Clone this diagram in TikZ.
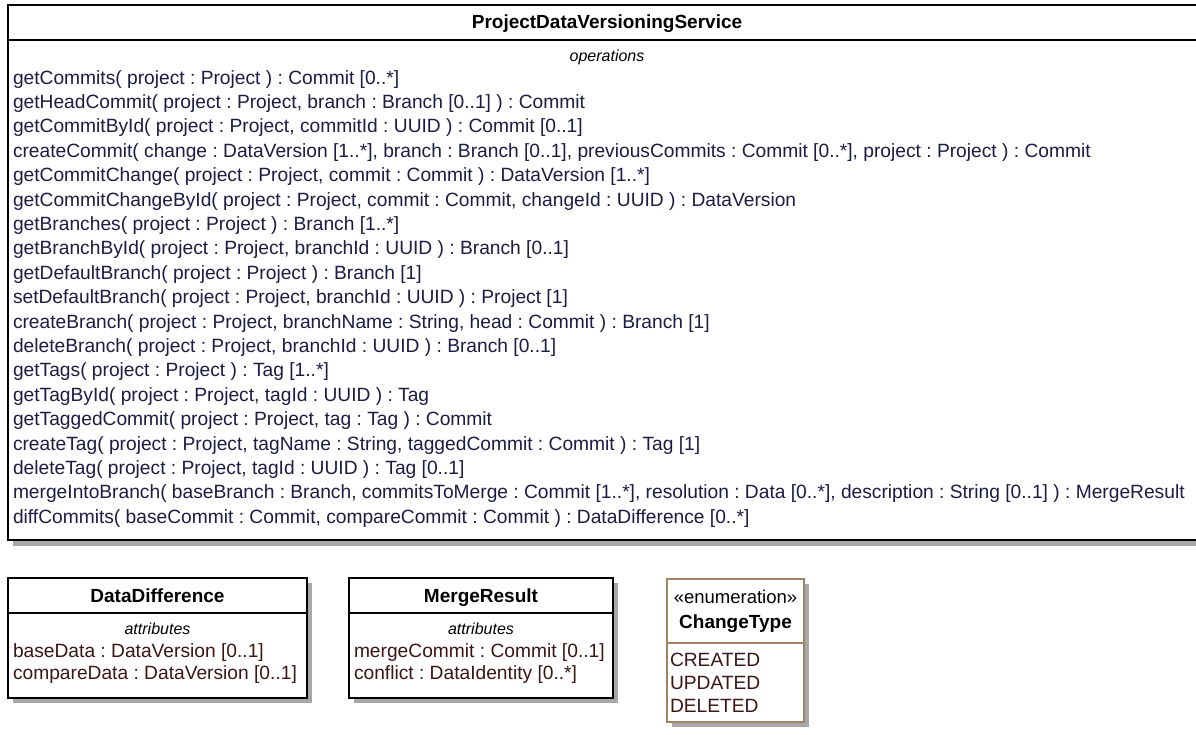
\documentclass[tikz,border=0pt]{standalone}
\usepackage{fontspec}
\setmainfont{Liberation Sans}
\frenchspacing
\definecolor{opcol}{HTML}{1C1C44}
\definecolor{atcol}{HTML}{3C1616}
\definecolor{enumcol}{HTML}{A08264}
\definecolor{shadowcol}{HTML}{A8A8A8}
\tikzset{
  every node/.style={inner sep=0pt, outer sep=0pt},
  boxline/.style={draw=black, line width=1.8pt, fill=white},
  enumline/.style={draw=enumcol, line width=1.8pt, fill=white},
  sepline/.style={draw=black, line width=1.8pt},
  enumsep/.style={draw=enumcol, line width=1.8pt},
  shadowbox/.style={fill=shadowcol, draw=none},
  optext/.style={anchor=base west, text=opcol, font=\fontsize{19.2}{19.2}\selectfont},
  attext/.style={anchor=base west, text=atcol, font=\fontsize{19.2}{19.2}\selectfont},
  titletext/.style={anchor=base, text=black, font=\bfseries\fontsize{19}{19}\selectfont},
  stereotext/.style={anchor=base, text=black, font=\fontsize{18.5}{18.5}\selectfont},
  comptext/.style={anchor=base, text=black, font=\itshape\fontsize{16}{16}\selectfont},
}
\begin{document}
\begin{tikzpicture}[x=1pt, y=-1pt]
\useasboundingbox (0,0) rectangle (1196,734);
\clip (0,0) rectangle (1196,734);
\fill[white] (0,0) rectangle (1196,734);

% ---------- ProjectDataVersioningService ----------
\fill[shadowbox] (13,10) rectangle (1211,546);
\path[boxline] (8,5) rectangle (1206,540);
\draw[sepline] (8,40) -- (1206,40);
\node[titletext] (pdvs) at (607,28) {ProjectDataVersioningService};
\node[comptext] (ops) at (607,61) {operations};
\foreach \t [count=\i from 0] in {
 {getCommits( project : Project ) : Commit [0..*]},
 {getHeadCommit( project : Project, branch : Branch [0..1] ) : Commit},
 {getCommitById( project : Project, commitId : UUID ) : Commit [0..1]},
 {createCommit( change : DataVersion [1..*], branch : Branch [0..1], previousCommits : Commit [0..*], project : Project ) : Commit},
 {getCommitChange( project : Project, commit : Commit ) : DataVersion [1..*]},
 {getCommitChangeById( project : Project, commit : Commit, changeId : UUID ) : DataVersion},
 {getBranches( project : Project ) : Branch [1..*]},
 {getBranchById( project : Project, branchId : UUID ) : Branch [0..1]},
 {getDefaultBranch( project : Project ) : Branch [1]},
 {setDefaultBranch( project : Project, branchId : UUID ) : Project [1]},
 {createBranch( project : Project, branchName : String, head : Commit ) : Branch [1]},
 {deleteBranch( project : Project, branchId : UUID ) : Branch [0..1]},
 {getTags( project : Project ) : Tag [1..*]},
 {getTagById( project : Project, tagId : UUID ) : Tag},
 {getTaggedCommit( project : Project, tag : Tag ) : Commit},
 {createTag( project : Project, tagName : String, taggedCommit : Commit ) : Tag [1]},
 {deleteTag( project : Project, tagId : UUID ) : Tag [0..1]},
 {mergeIntoBranch( baseBranch : Branch, commitsToMerge : Commit [1..*], resolution : Data [0..*], description : String [0..1] ) : MergeResult},
 {diffCommits( baseCommit : Commit, compareCommit : Commit ) : DataDifference [0..*]}
}{
  \node[optext] (op\i) at (13,84+24.4*\i) {\t};
}

% ---------- DataDifference ----------
\fill[shadowbox] (13,583) rectangle (312,703);
\path[boxline] (8,578) rectangle (307,698);
\draw[sepline] (8,613) -- (307,613);
\node[titletext] (dd) at (157.5,602) {DataDifference};
\node[comptext] (ddattr) at (157.5,634) {attributes};
\node[attext] (dd1) at (13,657) {baseData : DataVersion [0..1]};
\node[attext] (dd2) at (13,679) {compareData : DataVersion [0..1]};

% ---------- MergeResult ----------
\fill[shadowbox] (354,583) rectangle (618,703);
\path[boxline] (349,578) rectangle (613,698);
\draw[sepline] (349,613) -- (613,613);
\node[titletext] (mr) at (481,602) {MergeResult};
\node[comptext] (mrattr) at (481,634) {attributes};
\node[attext] (mr1) at (354,657) {mergeCommit : Commit [0..1]};
\node[attext] (mr2) at (354,679) {conflict : DataIdentity [0..*]};

% ---------- ChangeType ----------
\fill[shadowbox] (672,584) rectangle (809,727);
\path[enumline] (667,579) rectangle (804,722);
\draw[enumsep] (667,643) -- (804,643);
\node[stereotext] (ctst) at (735.5,603) {«enumeration»};
\node[titletext] (ct) at (735.5,628) {ChangeType};
\node[attext] (ct1) at (670,666) {CREATED};
\node[attext] (ct2) at (670,689) {UPDATED};
\node[attext] (ct3) at (670,712) {DELETED};
\end{tikzpicture}
\end{document}
